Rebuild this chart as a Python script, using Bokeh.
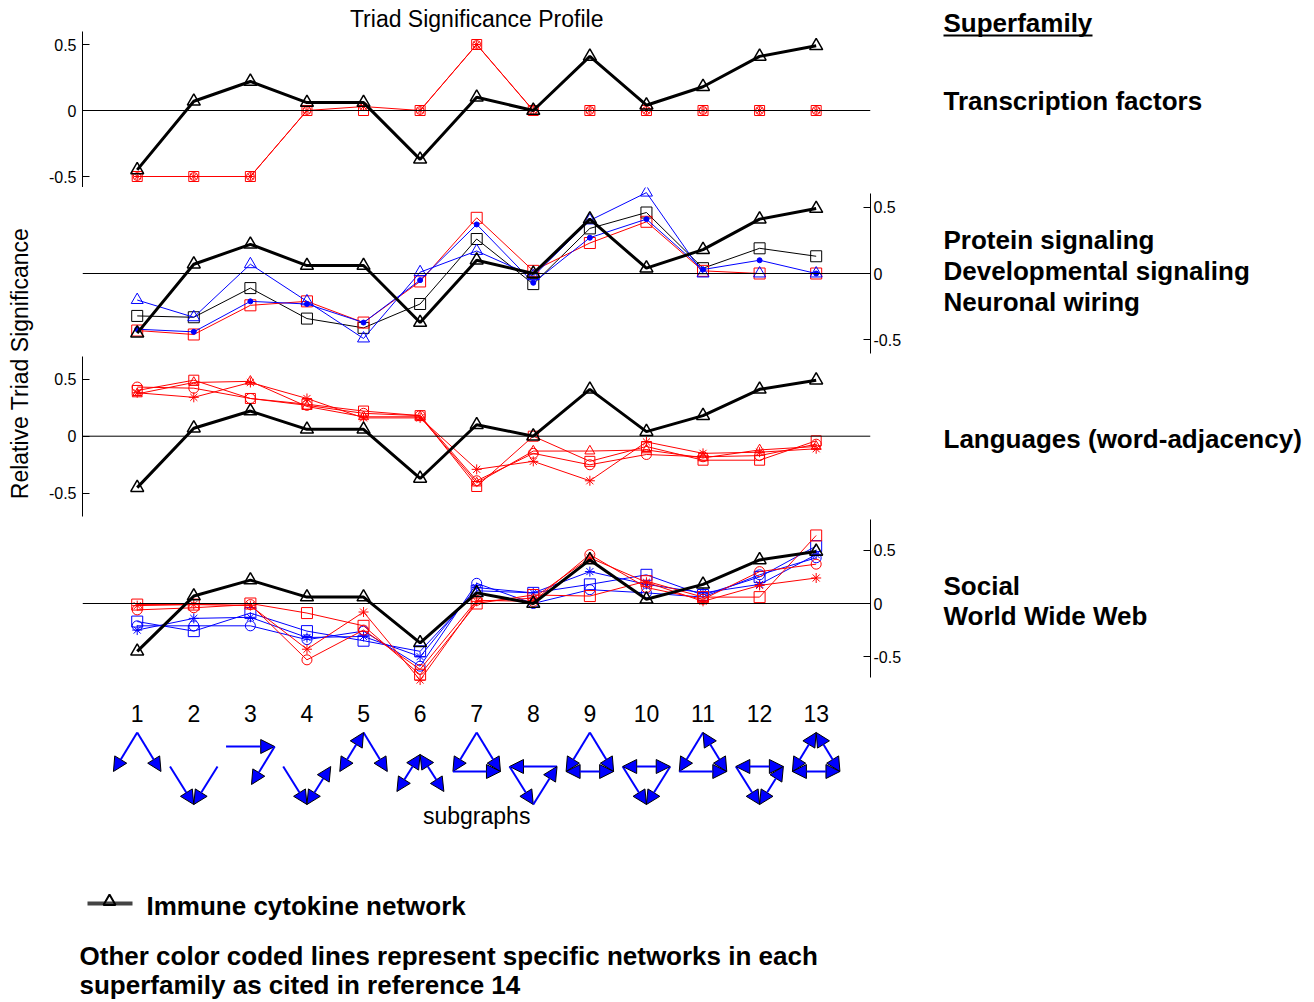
import math
from bokeh.plotting import figure
from bokeh.models import (Range1d, Span, FixedTicker, ColumnDataSource, Arrow,
                          NormalHead, CustomJSTickFormatter)
from bokeh.layouts import column, row
from bokeh.embed import file_html
from bokeh.resources import INLINE
from bokeh.core.properties import value

FONT = "Liberation Sans"

# ---------------- data ----------------
subgraphs = list(range(1, 14))
subgraph_labels = [str(i) for i in subgraphs]
y_ticks = [-0.5, 0, 0.5]

# Immune cytokine network (reference, drawn in every panel)
immune = [-0.45, 0.07, 0.22, 0.06, 0.06, -0.37, 0.10, 0.00, 0.41, 0.04, 0.18, 0.41, 0.49]

# Transcription factors
tf_square = [-0.50, -0.50, -0.50, 0.00, 0.00, 0.00, 0.50, 0.00, 0.00, 0.00, 0.00, 0.00, 0.00]
tf_circle = [-0.50, -0.50, -0.50, 0.00, 0.03, 0.00, 0.50, 0.00, 0.00, 0.00, 0.00, 0.00, 0.00]

# Protein signaling / Developmental signaling / Neuronal wiring
sig_blue_tri = [-0.20, -0.33, 0.07, -0.21, -0.49, 0.01, 0.17, -0.02, 0.40, 0.61, 0.00, 0.00, 0.00]
sig_blue_dot = [-0.42, -0.44, -0.21, -0.23, -0.37, -0.05, 0.37, -0.07, 0.27, 0.41, 0.03, 0.10, 0.00]
sig_black_sq = [-0.32, -0.33, -0.11, -0.34, -0.41, -0.23, 0.26, -0.08, 0.34, 0.46, 0.04, 0.19, 0.13]
sig_red_sq = [-0.43, -0.46, -0.24, -0.21, -0.37, -0.06, 0.42, 0.02, 0.23, 0.39, 0.02, 0.00, 0.00]

# Languages (word-adjacency)
lang_circle = [0.43, 0.42, 0.33, 0.27, 0.20, 0.18, -0.39, -0.15, -0.25, -0.16, -0.18, -0.17, -0.07]
lang_square = [0.40, 0.49, 0.33, 0.28, 0.22, 0.18, -0.44, 0.00, -0.22, -0.09, -0.21, -0.21, -0.04]
lang_star = [0.38, 0.34, 0.47, 0.33, 0.16, 0.16, -0.29, -0.22, -0.39, -0.05, -0.15, -0.14, -0.11]
lang_tri = [0.37, 0.47, 0.48, 0.26, 0.17, 0.17, -0.41, -0.13, -0.13, -0.12, -0.19, -0.12, -0.09]

# Social / World Wide Web
soc_red_sq = [-0.01, -0.01, 0.00, -0.09, -0.21, -0.67, 0.00, 0.08, 0.07, 0.21, 0.06, 0.06, 0.64]
soc_red_circle = [-0.06, -0.04, -0.01, -0.53, -0.25, -0.62, 0.03, 0.02, 0.46, 0.15, 0.04, 0.30, 0.37]
soc_red_star = [-0.02, -0.01, -0.02, -0.43, -0.08, -0.72, 0.02, 0.05, 0.43, 0.20, 0.02, 0.17, 0.24]
web_blue_sq = [-0.17, -0.26, -0.09, -0.26, -0.35, -0.45, 0.12, 0.10, 0.18, 0.27, 0.08, 0.25, 0.54]
web_blue_circle = [-0.21, -0.21, -0.21, -0.34, -0.26, -0.59, 0.19, 0.00, 0.13, 0.10, 0.06, 0.27, 0.43]
web_blue_star = [-0.25, -0.14, -0.13, -0.32, -0.31, -0.50, 0.15, 0.10, 0.30, 0.18, 0.10, 0.18, 0.46]

# subgraph (triad) structures: node layout and directed edges (">" one way, "=" mutual)
subgraph_layout = ["up", "down", "down_high", "down", "up", "up_low", "up",
                   "down", "up", "down", "up", "down", "up"]
subgraph_edges = [
    ["t>l", "t>r"], ["l>b", "r>b"], ["l>r", "r>b"], ["l>b", "r=b"],
    ["t=l", "t>r"], ["t=l", "t=r"], ["t>l", "t>r", "l>r"], ["r>l", "l>b", "b>r"],
    ["t>l", "t>r", "l=r"], ["l=r", "l>b", "r>b"], ["t>l", "t=r", "l>r"],
    ["l=r", "l>b", "r=b"], ["t=l", "t=r", "l=r"],
]

title_text = "Triad Significance Profile"
y_label_text = "Relative Triad Significance"
x_label_text = "subgraphs"
superfamily_header = "Superfamily"
superfamily_labels = [
    ("Transcription factors", 101),
    ("Protein signaling", 240),
    ("Developmental signaling", 271),
    ("Neuronal wiring", 302),
    ("Languages (word-adjacency)", 439),
    ("Social", 586),
    ("World Wide Web", 616),
]
legend_text = "Immune cytokine network"
note_lines = ["Other color coded lines represent specific networks in each",
              "superfamily as cited in reference 14"]

# ---------------- layout geometry (page pixels) ----------------
ORIGIN = 1          # where the page content starts (x and y)
PAGE_BOTTOM = 1000
X_START, X_END = 0.033, 13.96
LAB_W = 44 - ORIGIN
COL_W = 886
BL, BR = 39, 59
RED, BLUE, BLACK = "#ff0000", "#0000ff", "#000000"


def base_fig(width, height, xr, yr, **kw):
    p = figure(width=width, height=height, x_range=xr, y_range=yr,
               toolbar_location=None, output_backend="svg",
               min_border_top=0, min_border_bottom=0, **kw)
    p.xgrid.visible = False
    p.ygrid.visible = False
    p.outline_line_color = None
    p.background_fill_color = "white"
    p.border_fill_color = "white"
    return p


def make_panel(page_top, page_bottom, zero_px, px_per_unit, side, bounds, standoff):
    top = (zero_px - page_top) / px_per_unit
    bot = (zero_px - page_bottom) / px_per_unit
    p = base_fig(COL_W, page_bottom - page_top, Range1d(X_START, X_END), Range1d(bot, top),
                 y_axis_location=side, x_axis_location=None,
                 min_border_left=BL, min_border_right=BR)
    ax = p.yaxis[0]
    ax.ticker = FixedTicker(ticks=y_ticks)
    ax.formatter = CustomJSTickFormatter(code="return tick.toString();")
    ax.bounds = bounds
    ax.major_tick_in = 7
    ax.major_tick_out = 0
    ax.minor_tick_line_color = None
    ax.axis_line_color = BLACK
    ax.major_tick_line_color = BLACK
    ax.major_label_text_font = FONT
    ax.major_label_text_font_size = "16px"
    ax.major_label_text_color = BLACK
    ax.major_label_standoff = standoff
    p.add_layout(Span(location=0, dimension="width", line_color=BLACK, line_width=1))
    return p


def series(p, y, color, marker, lw=1, size=10, mlw=1, fill=None):
    p.line(subgraphs, y, line_color=color, line_width=lw)
    p.scatter(subgraphs, y, marker=marker, size=size, line_color=color,
              line_width=mlw, fill_color=fill)


def immune_series(p):
    series(p, immune, BLACK, "triangle", lw=3, size=13, mlw=1.5)


# Panel 1 : Transcription factors
p1 = make_panel(ORIGIN, 188, 111, 132, "left", (-0.58, 0.6), 6)
series(p1, tf_circle, RED, "circle", size=8)
series(p1, tf_square, RED, "square", size=10)
p1.scatter(subgraphs, tf_circle, marker="asterisk", size=7, line_color=RED)
immune_series(p1)
p1.text(x=[7], y=[(111 - 19) / 132], text=[title_text], text_align="center",
        text_baseline="middle", text_font=value(FONT), text_font_size="23px",
        text_color=BLACK)

# Panel 2 : signaling / neuronal
p2 = make_panel(188, 355, 274, 132.6, "right", (-0.6, 0.6), 3)
series(p2, sig_black_sq, BLACK, "square", size=11)
series(p2, sig_red_sq, RED, "square", size=11)
series(p2, sig_blue_tri, BLUE, "triangle", size=12)
series(p2, sig_blue_dot, BLUE, "circle", size=5, fill=BLUE)
immune_series(p2)

# Panel 3 : Languages
p3 = make_panel(355, 518, 436.7, 114.3, "left", (-0.7, 0.7), 6)
series(p3, lang_circle, RED, "circle", size=10)
series(p3, lang_square, RED, "square", size=10)
series(p3, lang_star, RED, "asterisk", size=10)
series(p3, lang_tri, RED, "triangle", size=10)
immune_series(p3)

# Panel 4 : Social / WWW
p4 = make_panel(518, 690, 604, 106.3, "right", (-0.7, 0.79), 3)
series(p4, web_blue_sq, BLUE, "square", size=11)
series(p4, web_blue_circle, BLUE, "circle", size=10)
series(p4, web_blue_star, BLUE, "asterisk", size=10)
series(p4, soc_red_sq, RED, "square", size=11)
series(p4, soc_red_circle, RED, "circle", size=10)
series(p4, soc_red_star, RED, "asterisk", size=10)
immune_series(p4)

# Subgraph icons row
icons = base_fig(COL_W, 150, Range1d(X_START, X_END), Range1d(840, 690),
                 x_axis_location=None, y_axis_location=None,
                 min_border_left=BL, min_border_right=BR)
icons.text(x=subgraphs, y=[714] * len(subgraphs), text=subgraph_labels,
           text_align="center", text_baseline="middle", text_font=value(FONT),
           text_font_size="23px", text_color=BLACK)
icons.text(x=[7], y=[816], text=[x_label_text], text_align="center",
           text_baseline="middle", text_font=value(FONT), text_font_size="23px",
           text_color=BLACK)

NODE_LAYOUTS = {
    "up": {"t": (0.0, 733), "l": (-0.42, 772), "r": (0.42, 772)},
    "up_low": {"t": (0.0, 755), "l": (-0.41, 792), "r": (0.42, 792)},
    "down": {"l": (-0.42, 767), "r": (0.42, 767), "b": (0.0, 805)},
    "down_high": {"l": (-0.43, 747), "r": (0.43, 747), "b": (0.02, 785)},
}
single = dict(x0=[], y0=[], x1=[], y1=[])
mutual = dict(x0=[], y0=[], x1=[], y1=[])
for k, lay, edges in zip(subgraphs, subgraph_layout, subgraph_edges):
    nodes = NODE_LAYOUTS[lay]
    for e in edges:
        a, kind, b = e[0], e[1], e[2]
        d = mutual if kind == "=" else single
        d["x0"].append(k + nodes[a][0]); d["y0"].append(nodes[a][1])
        d["x1"].append(k + nodes[b][0]); d["y1"].append(nodes[b][1])


def head():
    return NormalHead(size=14, fill_color=BLUE, line_color=BLACK, line_width=1)


icons.add_layout(Arrow(end=head(), source=ColumnDataSource(single),
                       x_start="x0", y_start="y0", x_end="x1", y_end="y1",
                       line_color=BLUE, line_width=2))
icons.add_layout(Arrow(start=head(), end=head(), source=ColumnDataSource(mutual),
                       x_start="x0", y_start="y0", x_end="x1", y_end="y1",
                       line_color=BLUE, line_width=2))

# y label column
ylab = base_fig(LAB_W, 840 - ORIGIN, Range1d(ORIGIN, 44), Range1d(840, ORIGIN),
                x_axis_location=None, y_axis_location=None,
                min_border_left=0, min_border_right=0)
ylab.text(x=[20], y=[364], text=[y_label_text], angle=math.pi / 2,
          text_align="center", text_baseline="middle", text_font=value(FONT),
          text_font_size="23px", text_color=BLACK)

# superfamily labels column
right = base_fig(376, 840 - ORIGIN, Range1d(930, 1306), Range1d(840, ORIGIN),
                 x_axis_location=None, y_axis_location=None,
                 min_border_left=0, min_border_right=0)
right.text(x=[944], y=[23], text=[superfamily_header], text_baseline="middle",
           text_font=value(FONT), text_font_size="26px", text_font_style="bold",
           text_color=BLACK)
right.line([944, 1093], [36, 36], line_color=BLACK, line_width=2)
right.text(x=[944] * len(superfamily_labels), y=[yy for _, yy in superfamily_labels],
           text=[t for t, _ in superfamily_labels], text_baseline="middle",
           text_font=value(FONT), text_font_size="26px", text_font_style="bold",
           text_color=BLACK)

# bottom legend / note
bottom = base_fig(1306 - ORIGIN, PAGE_BOTTOM - 840, Range1d(ORIGIN, 1306),
                  Range1d(PAGE_BOTTOM, 840),
                  x_axis_location=None, y_axis_location=None,
                  min_border_left=0, min_border_right=0)
bottom.line([88, 133], [904, 904], line_color="#444444", line_width=4)
bottom.scatter([110], [902], marker="triangle", size=12, line_color=BLACK,
               line_width=2, fill_color=None)
bottom.text(x=[147], y=[906], text=[legend_text], text_baseline="middle",
            text_font=value(FONT), text_font_size="26px", text_font_style="bold",
            text_color=BLACK)
bottom.text(x=[80, 80], y=[956, 985], text=note_lines, text_baseline="middle",
            text_font=value(FONT), text_font_size="26px", text_font_style="bold",
            text_color=BLACK)

layout = column(row(ylab, column(p1, p2, p3, p4, icons), right), bottom)

open("out.html", "w").write(file_html(layout, INLINE))
